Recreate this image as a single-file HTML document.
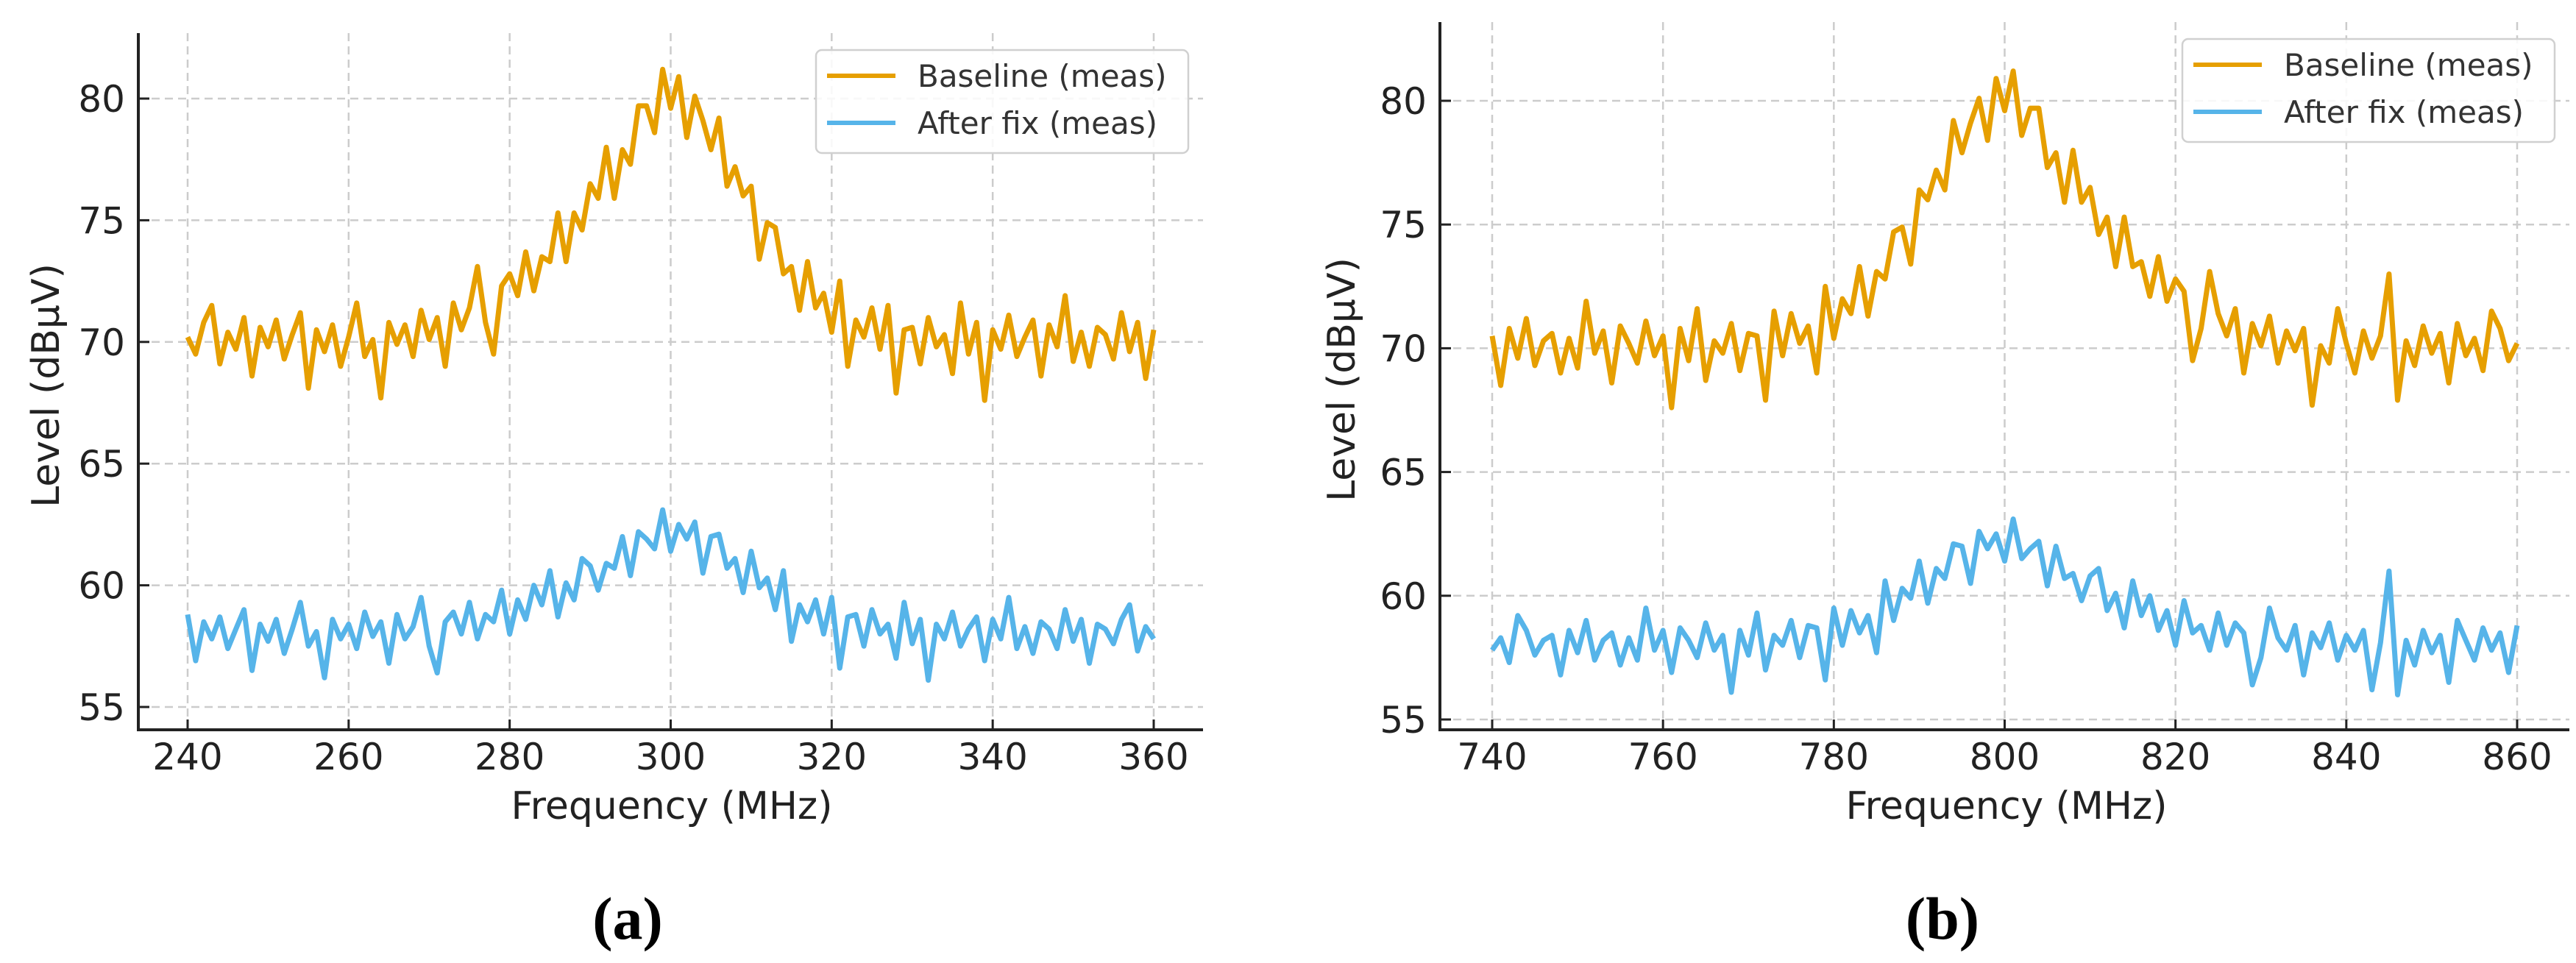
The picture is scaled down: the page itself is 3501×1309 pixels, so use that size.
<!DOCTYPE html>
<html><head><meta charset="utf-8"><style>
html,body{margin:0;padding:0;background:#fff;}
svg{display:block;font-family:"DejaVu Sans","Liberation Sans",sans-serif;}
</style></head><body>
<svg id="fig" width="3501" height="1309" viewBox="0 0 3501 1309" xmlns="http://www.w3.org/2000/svg">
<rect x="0" y="0" width="3501" height="1309" fill="#fff"/>
</svg>
<script>
const freqStartA = 240, freqStartB = 740;
const xTicksA = [240,260,280,300,320,340,360];
const xTicksB = [740,760,780,800,820,840,860];
const yTicks = [55,60,65,70,75,80];
const baselineA = [70.2,69.5,70.8,71.5,69.1,70.4,69.7,71.0,68.6,70.6,
69.8,70.9,69.3,70.3,71.2,68.1,70.5,69.6,70.7,69.0,
70.2,71.6,69.4,70.1,67.7,70.8,69.9,70.7,69.4,71.3,
70.1,71.0,69.0,71.6,70.5,71.4,73.1,70.8,69.5,72.3,
72.8,71.9,73.7,72.1,73.5,73.3,75.3,73.3,75.3,74.6,
76.5,75.9,78.0,75.9,77.9,77.3,79.7,79.7,78.6,81.2,
79.6,80.9,78.4,80.1,79.1,77.9,79.2,76.4,77.2,76.0,
76.4,73.4,74.9,74.7,72.8,73.1,71.3,73.3,71.4,72.0,
70.4,72.5,69.0,70.9,70.2,71.4,69.7,71.5,67.9,70.5,
70.6,69.1,71.0,69.8,70.3,68.7,71.6,69.5,70.8,67.6,
70.5,69.7,71.1,69.4,70.2,70.9,68.6,70.7,69.8,71.9,
69.2,70.4,69.0,70.6,70.3,69.3,71.2,69.6,70.8,68.5,70.5];
const afterA = [58.8,56.9,58.5,57.8,58.7,57.4,58.2,59.0,56.5,58.4,
57.7,58.6,57.2,58.2,59.3,57.5,58.1,56.2,58.6,57.8,
58.4,57.4,58.9,57.9,58.5,56.8,58.8,57.8,58.3,59.5,
57.5,56.4,58.5,58.9,58.0,59.3,57.8,58.8,58.5,59.8,
58.0,59.4,58.6,60.0,59.2,60.6,58.7,60.1,59.4,61.1,
60.8,59.8,60.9,60.7,62.0,60.4,62.2,61.9,61.5,63.1,
61.4,62.5,61.9,62.6,60.5,62.0,62.1,60.7,61.1,59.7,
61.4,59.9,60.3,59.0,60.6,57.7,59.2,58.5,59.4,58.0,
59.5,56.6,58.7,58.8,57.5,59.0,58.0,58.4,57.0,59.3,
57.6,58.6,56.1,58.4,57.8,58.9,57.5,58.2,58.7,56.9,
58.6,57.8,59.5,57.4,58.3,57.2,58.5,58.2,57.4,59.0,
57.7,58.6,56.8,58.4,58.2,57.6,58.6,59.2,57.3,58.3,57.8];
const baselineB = [70.5,68.5,70.8,69.6,71.2,69.3,70.3,70.6,69.0,70.4,
69.2,71.9,69.8,70.7,68.6,70.9,70.2,69.4,71.1,69.7,
70.5,67.6,70.8,69.5,71.6,68.7,70.3,69.8,71.0,69.1,
70.6,70.5,67.9,71.5,69.7,71.4,70.2,70.9,69.0,72.5,
70.4,72.0,71.4,73.3,71.3,73.1,72.8,74.7,74.9,73.4,
76.4,76.0,77.2,76.4,79.2,77.9,79.1,80.1,78.4,80.9,
79.6,81.2,78.6,79.7,79.7,77.3,77.9,75.9,78.0,75.9,
76.5,74.6,75.3,73.3,75.3,73.3,73.5,72.1,73.7,71.9,
72.8,72.3,69.5,70.8,73.1,71.4,70.5,71.6,69.0,71.0,
70.1,71.3,69.4,70.7,69.9,70.8,67.7,70.1,69.4,71.6,
70.2,69.0,70.7,69.6,70.5,73.0,67.9,70.3,69.3,70.9,
69.8,70.6,68.6,71.0,69.7,70.4,69.1,71.5,70.8,69.5,70.2];
const afterB = [57.8,58.3,57.3,59.2,58.6,57.6,58.2,58.4,56.8,58.6,
57.7,59.0,57.4,58.2,58.5,57.2,58.3,57.4,59.5,57.8,
58.6,56.9,58.7,58.2,57.5,58.9,57.8,58.4,56.1,58.6,
57.6,59.3,57.0,58.4,58.0,59.0,57.5,58.8,58.7,56.6,
59.5,58.0,59.4,58.5,59.2,57.7,60.6,59.0,60.3,59.9,
61.4,59.7,61.1,60.7,62.1,62.0,60.5,62.6,61.9,62.5,
61.4,63.1,61.5,61.9,62.2,60.4,62.0,60.7,60.9,59.8,
60.8,61.1,59.4,60.1,58.7,60.6,59.2,60.0,58.6,59.4,
58.0,59.8,58.5,58.8,57.8,59.3,58.0,58.9,58.5,56.4,
57.5,59.5,58.3,57.8,58.8,56.8,58.5,57.9,58.9,57.4,
58.4,57.8,58.6,56.2,58.1,61.0,56.0,58.2,57.2,58.6,
57.7,58.4,56.5,59.0,58.2,57.4,58.7,57.8,58.5,56.9,58.8];
const seriesNames = ["Baseline (meas)","After fix (meas)"];
const seriesColors = ["#E69F00","#56B4E9"];

const NS = "http://www.w3.org/2000/svg";
const svg = document.getElementById('fig');
function mk(tag, attrs, parent, text){
  const e = document.createElementNS(NS, tag);
  for (const k in attrs) e.setAttribute(k, attrs[k]);
  if (text !== undefined) e.textContent = text;
  (parent||svg).appendChild(e);
  return e;
}

function panel(cfg){
  const g = mk('g', {});
  
  
  const xs = v => cfg.x0 + (v - cfg.xt[0]) * (cfg.x1 - cfg.x0) / (cfg.xt[cfg.xt.length-1] - cfg.xt[0]);
  const ys = v => cfg.y55 - (v - 55) * (cfg.y55 - cfg.y80) / 25;
  cfg.xt.forEach(t => {
    const l = mk('line', {x1:xs(t), x2:xs(t), y1:cfg.top, y2:cfg.bottom, stroke:'#cccccc', 'stroke-width':2.5, 'stroke-dasharray':'11,7'}, g);
    
    
  });
  yTicks.forEach(t => {
    const l = mk('line', {x1:cfg.axisX, x2:cfg.right, y1:ys(t), y2:ys(t), stroke:'#cccccc', 'stroke-width':2.5, 'stroke-dasharray':'11,7'}, g);
    
    
  });
  [cfg.base, cfg.after].forEach((arr, si) => {
    const pts = arr.map((v, i) => xs(cfg.start + i).toFixed(1) + ',' + ys(v).toFixed(1)).join(' ');
    const p = mk('polyline', {points:pts, fill:'none', stroke:seriesColors[si], 'stroke-width':7, 'stroke-linejoin':'round'}, g);
    
    
  });
  const ax = mk('line', {x1:cfg.axisX, x2:cfg.axisX, y1:cfg.top, y2:cfg.bottom+2, stroke:'#222', 'stroke-width':4}, g);
  
  
  const bx = mk('line', {x1:cfg.axisX-2, x2:cfg.right, y1:cfg.bottom, y2:cfg.bottom, stroke:'#222', 'stroke-width':4}, g);
  
  
  cfg.xt.forEach(t => {
    mk('line', {x1:xs(t), x2:xs(t), y1:cfg.bottom, y2:cfg.bottom-14, stroke:'#222', 'stroke-width':3}, g);
    const tx = mk('text', {x:xs(t), y:1046, 'font-size':50, 'text-anchor':'middle', fill:'#222'}, g, String(t));
    
    
  });
  yTicks.forEach(t => {
    mk('line', {x1:cfg.axisX, x2:cfg.axisX+15, y1:ys(t), y2:ys(t), stroke:'#222', 'stroke-width':3}, g);
    const tx = mk('text', {x:cfg.axisX-18, y:ys(t)+18, 'font-size':50, 'text-anchor':'end', fill:'#222'}, g, String(t));
    
    
  });
  const xl = mk('text', {x:cfg.xlabelX, y:1113, 'font-size':52, 'text-anchor':'middle', fill:'#222'}, g, 'Frequency (MHz)');
  
  
  const yl = mk('text', {x:0, y:0, 'font-size':52, 'text-anchor':'middle', fill:'#222', transform:`translate(${cfg.ylabelX},${cfg.ylabelY}) rotate(-90)`}, g, 'Level (dBμV)');
  
  
  const lg = mk('g', {}, g);
  
  
  mk('rect', {x:cfg.lx, y:cfg.ly, width:506, height:140, rx:8, fill:'#fff', 'fill-opacity':0.85, stroke:'#d0d0d0', 'stroke-width':2.5}, lg);
  seriesNames.forEach((n, i) => {
    const e = mk('g', {}, lg);
    
    
    const yy = cfg.ly + 35 + i*64;
    mk('line', {x1:cfg.lx+15, x2:cfg.lx+108, y1:yy, y2:yy, stroke:seriesColors[i], 'stroke-width':6}, e);
    mk('text', {x:cfg.lx+138, y:yy+15, 'font-size':42, fill:'#333'}, e, n);
  });
  const cap = mk('text', {x:cfg.capX, y:1276, 'font-size':82, 'font-weight':'bold', 'text-anchor':'middle', fill:'#000', 'font-family':'"Liberation Serif", serif'}, svg, cfg.cap);
  
  
}

panel({name:'chart-a', xt:xTicksA, start:freqStartA, base:baselineA, after:afterA,
  x0:255, x1:1568, y55:961, y80:134, axisX:188, top:45, bottom:992, right:1635,
  xlabelX:913, ylabelX:80, ylabelY:524, lx:1109, ly:68, capX:853, cap:'(a)'});
panel({name:'chart-b', xt:xTicksB, start:freqStartB, base:baselineB, after:afterB,
  x0:2028, x1:3421, y55:978, y80:137, axisX:1957, top:30, bottom:992, right:3492,
  xlabelX:2727, ylabelX:1841, ylabelY:516, lx:2966, ly:53, capX:2640, cap:'(b)'});
</script>
</body></html>
